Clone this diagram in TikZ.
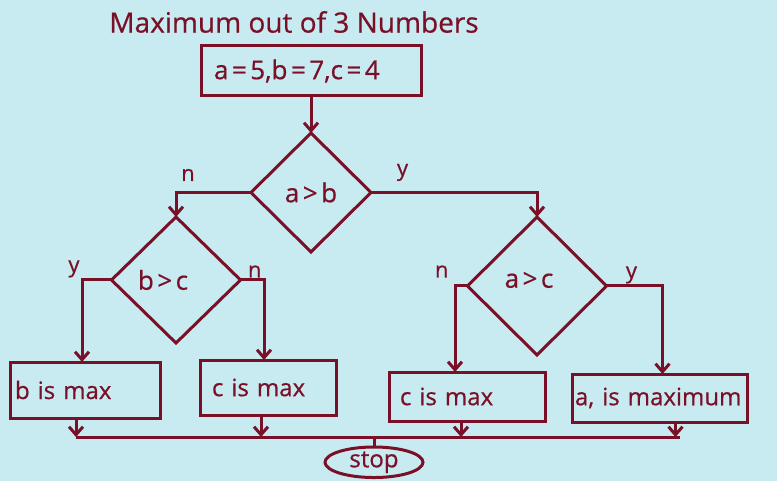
\documentclass[tikz,border=0pt]{standalone}
\usepackage{fontspec}
\setmainfont{Open Sans}[FakeBold=0.6]
\usetikzlibrary{shapes.geometric, positioning, arrows.meta}
\definecolor{wine}{RGB}{122,16,40}
\definecolor{skyblue}{RGB}{200,235,242}
\newcommand{\wide}[1]{\kern3.5pt#1\kern3.5pt}
\tikzset{
  flow/.style={draw=wine, line width=3pt, text=wine, outer sep=0pt},
  procbox/.style={flow, rectangle, align=left, inner ysep=0pt, anchor=north west, font=\fontsize{24}{28}\selectfont},
  decision/.style={flow, diamond, inner sep=0pt},
  dtext/.style={text=wine, font=\fontsize{26}{30}\selectfont},
  terminal/.style={flow, ellipse, inner sep=0pt, font=\fontsize{24}{28}\selectfont},
  yn/.style={text=wine, inner sep=1pt, font=\fontsize{22}{26}\selectfont},
  arr/.style={-{Straight Barb[length=8pt,width=14pt]}}
}
\begin{document}
\begin{tikzpicture}[x=1pt, y=-1pt, line width=3pt, color=wine]
        \fill[skyblue] (0,0) rectangle (777,481);
        \useasboundingbox (0,0) rectangle (777,481);
        \node[text=wine, font=\fontsize{28}{34}\selectfont] (title) at (294,22) {Maximum out of 3 Numbers};
        \node[procbox, font=\fontsize{26}{30}\selectfont, minimum height=50pt, text width=194pt, inner xsep=13pt] (init) at (201,46) {a\wide{=}5,b\wide{=}7,c\wide{=}4};
        \node[decision, dtext, minimum width=120pt, minimum height=119pt, below=37pt of init] (ab) {a\wide{>}b};
        \node[decision, minimum width=129pt, minimum height=126pt, label={[dtext, xshift=-13pt]center:b\wide{>}c}] (bc) at (176,280) {};
        \node[decision, minimum width=139pt, minimum height=138pt, label={[dtext, xshift=-8pt, yshift=6pt]center:a\wide{>}c}] (ac) at (537,286) {};
        \node[procbox, minimum height=56pt, text width=140pt, inner xsep=5pt] (bmax) at (10,362) {b is max};
        \node[procbox, minimum height=55pt, text width=112pt, inner xsep=12pt] (cmax) at (200,360) {c is max};
        \node[procbox, minimum height=49pt, text width=134pt, inner xsep=11pt] (cmaxr) at (389,372) {c is max};
        \node[procbox, minimum height=48pt, text width=169pt, inner xsep=3pt] (amax) at (572,374) {a, is maximum};
        \coordinate (busL) at (76,437);
        \coordinate (busR) at (680,437);
        \coordinate (bus) at (374,437);
        \node[terminal, minimum width=98pt, minimum height=30pt, below=10pt of bus] (stop) {stop};
        \draw[arr] (init.south) -- (ab.north);
        \draw[arr] (ab.west) -| node[yn, pos=0.42, above=9pt] {n} (bc.north);
        \draw[arr] (ab.east) -| node[yn, pos=0.095, above=9pt] {y} (ac.north);
        \draw[arr] (bc.west) -| node[yn, pos=0.5, anchor=south east] {y} ([xshift=-3pt]bmax.north);
        \draw[arr] (bc.east) -| node[yn, pos=0.5, anchor=south east] {n} ([xshift=-4pt]cmax.north);
        \draw[arr] (ac.west) -| node[yn, pos=0.5, anchor=south east, xshift=-4pt, yshift=6pt] {n} ([xshift=-12pt]cmaxr.north);
        \draw[arr] (ac.east) -| node[yn, pos=0.223, anchor=south] {y} ([xshift=3pt]amax.north);
        \draw[arr] ([xshift=-9pt]bmax.south) -- ([xshift=-9pt]bmax.south |- busL);
        \draw[arr] ([xshift=-7pt]cmax.south) -- ([xshift=-7pt]cmax.south |- busL);
        \draw[arr] ([xshift=-6pt]cmaxr.south) -- ([xshift=-6pt]cmaxr.south |- busL);
        \draw[arr] ([xshift=16pt]amax.south) -- ([xshift=16pt]amax.south |- busL);
        \draw (busL) -- (busR);
        \draw (bus) -- (stop.north);
\end{tikzpicture}
\end{document}
